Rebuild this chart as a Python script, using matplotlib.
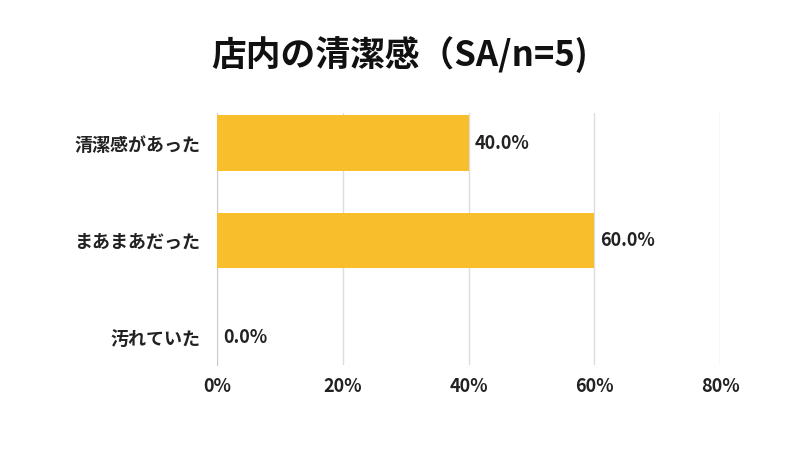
import matplotlib
matplotlib.use("Agg")
import matplotlib.pyplot as plt

categories = ["清潔感があった", "まあまあだった", "汚れていた"]
values = [40.0, 60.0, 0.0]
xticks = [0, 20, 40, 60, 80]

plt.rcParams['font.family'] = ['Noto Sans CJK JP', 'DejaVu Sans']
fig = plt.figure(figsize=(8, 4.5), dpi=100)
ax = fig.add_axes([217/800, 1-365/450, (720-217)/800, (365-113)/450])
y = list(range(len(categories)))
ax.barh(y, values, height=0.57, color="#F8BE2C", zorder=3)
for yi, v in zip(y, values):
    ax.text(v + 1, yi, f"{v:.1f}%", va="center", ha="left", fontsize=13, fontweight="bold", color="#222222")
ax.set_xlim(0, 80)
ax.set_ylim(2.28, -0.31)
ax.set_yticks(y)
ax.set_yticklabels(categories, fontsize=13, fontweight="bold", color="#222222")
ax.set_xticks(xticks)
ax.set_xticklabels([f"{t}%" for t in xticks], fontsize=13, fontweight="bold", color="#222222")
ax.tick_params(length=0, axis="y", pad=12)
ax.tick_params(length=0, axis="x", pad=9)
ax.grid(axis="x", color="#dddddd", linewidth=1, zorder=0)
for s in ["top", "right", "bottom"]:
    ax.spines[s].set_visible(False)
ax.spines["left"].set_color("#cccccc")
fig.text(0.5, 1-55/450, "店内の清潔感（SA/n=5)", ha="center", va="center", fontsize=25, fontweight="bold", color="#111111")
fig.savefig("out.png", dpi=100)
